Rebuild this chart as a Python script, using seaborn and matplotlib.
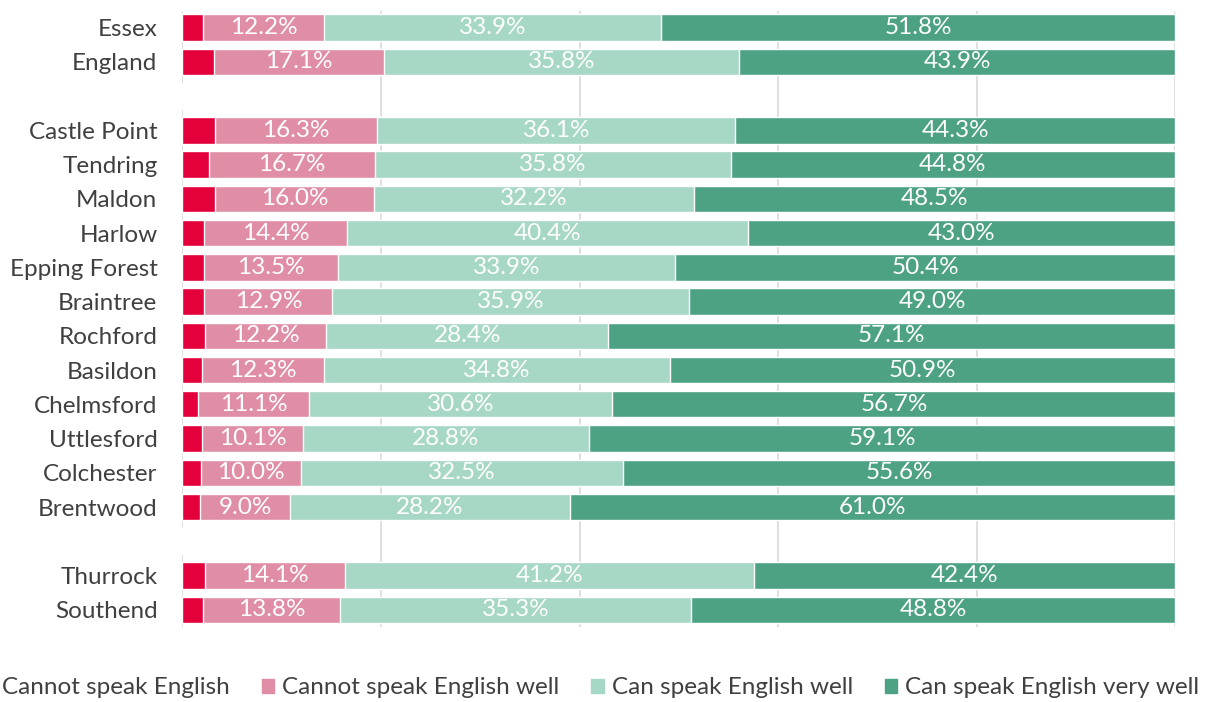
import matplotlib
matplotlib.use('Agg')
import matplotlib.pyplot as plt
from matplotlib.patches import Patch
import numpy as np
import pandas as pd
import seaborn as sns

# '' and ' ' are the blank spacer rows between groups
areas = ['Essex', 'England', '', 'Castle Point', 'Tendring', 'Maldon', 'Harlow',
         'Epping Forest', 'Braintree', 'Rochford', 'Basildon', 'Chelmsford',
         'Uttlesford', 'Colchester', 'Brentwood', ' ', 'Thurrock', 'Southend']
cannot = [2.1, 3.2, 0, 3.3, 2.7, 3.3, 2.2, 2.2, 2.2, 2.3, 2.0, 1.6, 2.0, 1.9, 1.8, 0, 2.3, 2.1]
cannot_well = [12.2, 17.1, 0, 16.3, 16.7, 16.0, 14.4, 13.5, 12.9, 12.2, 12.3, 11.1, 10.1, 10.0, 9.0, 0, 14.1, 13.8]
can_well = [33.9, 35.8, 0, 36.1, 35.8, 32.2, 40.4, 33.9, 35.9, 28.4, 34.8, 30.6, 28.8, 32.5, 28.2, 0, 41.2, 35.3]
very_well = [51.8, 43.9, 0, 44.3, 44.8, 48.5, 43.0, 50.4, 49.0, 57.1, 50.9, 56.7, 59.1, 55.6, 61.0, 0, 42.4, 48.8]

series = ['Cannot speak English', 'Cannot speak English well',
          'Can speak English well', 'Can speak English very well']
colors = ['#E4003B', '#E08EA6', '#A7D7C5', '#4DA283']

sns.set_style('white')
plt.rcParams['font.family'] = ['Lato', 'DejaVu Sans']

df = pd.DataFrame({'area': areas, series[0]: cannot, series[1]: cannot_well,
                   series[2]: can_well, series[3]: very_well})
df[series] = df[series] / 100
cum = df[series].cumsum(axis=1)

fig, ax = plt.subplots(figsize=(12.08, 7.02), dpi=100)
fig.subplots_adjust(left=0.151, right=0.973, top=0.985, bottom=0.107)

# stacked: draw cumulative totals, largest first
for s, c in reversed(list(zip(series, colors))):
    sns.barplot(x=cum[s], y=df['area'], orient='h', color=c, saturation=1,
                width=0.77, ax=ax, zorder=2)

for i, row in df.iterrows():
    for s in series[1:]:
        v = row[s]
        if v > 0:
            ax.text(cum.loc[i, s] - v / 2, i, f'{v * 100:.1f}%', ha='center',
                    va='center', color='white', fontsize=17.5, zorder=3)

ax.set_xlim(0, 1)
ax.set_xticks(np.linspace(0, 1, 6))
ax.set_xticklabels([])
ax.set_xlabel('')
ax.set_ylabel('')
ax.xaxis.grid(True, color='#D9D9D9', linewidth=1.2)
ax.set_axisbelow(True)
ax.tick_params(axis='both', length=0)
ax.tick_params(axis='y', pad=18, labelsize=17.5, labelcolor='#404040')
sns.despine(ax=ax, left=True, bottom=True)

handles = [Patch(color=c) for c in colors]
fig.legend(handles=handles, labels=series, loc='center', ncol=4,
           bbox_to_anchor=(0.489, 0.02), frameon=False, fontsize=17.5,
           handlelength=0.52, handleheight=0.52, handletextpad=0.33,
           columnspacing=1.3, labelcolor='#404040')

fig.savefig('out.png', dpi=100)
